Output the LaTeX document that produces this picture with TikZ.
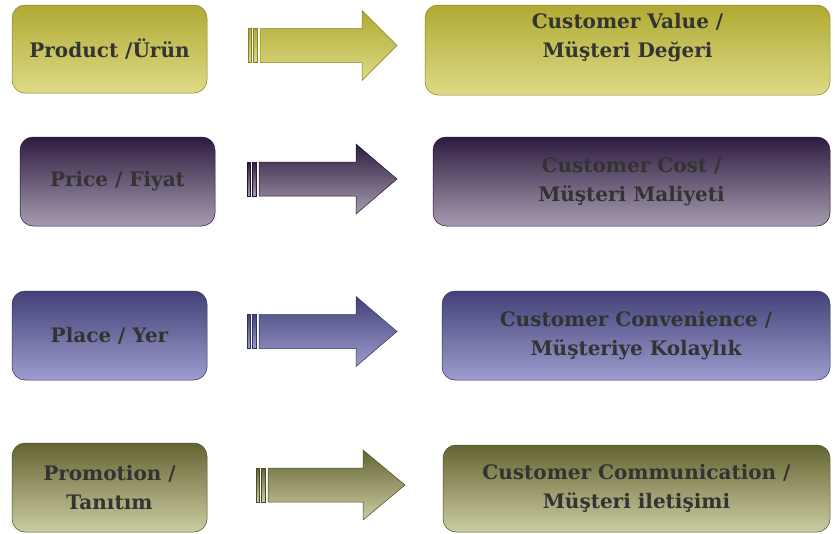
\documentclass[tikz,border=0pt]{standalone}
\usepackage{fontspec}
\setmainfont{DejaVu Serif}
\usetikzlibrary{positioning}
\definecolor{ProductTop}{RGB}{176,170,50}
\definecolor{ProductBot}{RGB}{222,218,135}
\definecolor{PriceTop}{RGB}{46,28,64}
\definecolor{PriceBot}{RGB}{166,156,176}
\definecolor{PlaceTop}{RGB}{66,66,120}
\definecolor{PlaceBot}{RGB}{156,156,206}
\definecolor{PromoTop}{RGB}{100,100,50}
\definecolor{PromoBot}{RGB}{204,204,162}

% block arrow: start x, centre y, head base x, tip x, top colour, bottom colour
\newcommand{\mixarrow}[6]{%
  \shade[top color=#5, bottom color=#6, draw=#5!75!black, line width=0.5pt]
    (#1,#2-17) rectangle (#1+3,#2+17)
    (#1+5,#2-17) rectangle (#1+9,#2+17);
  \shade[top color=#5, bottom color=#6, draw=#5!75!black, line width=0.5pt]
    (#1+12,#2-17) -- (#3,#2-17) -- (#3,#2-35) -- (#4,#2)
    -- (#3,#2+35) -- (#3,#2+17) -- (#1+12,#2+17) -- cycle;
}

\begin{document}
\begin{tikzpicture}[x=1pt, y=-1pt,
    every node/.style={font=\fontsize{20}{29}\selectfont\bfseries, text=black!80, align=center},
    mixbox/.style n args={3}{rounded corners=13pt, top color=#1, bottom color=#2,
        draw=#1!75!black, line width=0.5pt, minimum height=#3},
    leftbox/.style={minimum width=195pt}]
    \useasboundingbox (0,0) rectangle (835,533);

    % --- Product -> Customer Value ---
    \node[mixbox={ProductTop}{ProductBot}{88pt}, leftbox] (product) at (109.5,49) {Product /Ürün};
    \mixarrow{248}{45.5}{362}{397}{ProductTop}{ProductBot}
    \node[mixbox={ProductTop}{ProductBot}{90pt}, minimum width=405pt, text depth=30pt] (value) at (627.5,50)
        {Customer Value /\\Müşteri Değeri};

    % --- Price -> Customer Cost ---
    \node[mixbox={PriceTop}{PriceBot}{89pt}, leftbox] (price) at (117.5,181.5) {Price / Fiyat};
    \mixarrow{247}{179}{356}{397}{PriceTop}{PriceBot}
    \node[mixbox={PriceTop}{PriceBot}{89pt}, minimum width=397pt] (cost) at (631.5,181.5)
        {Customer Cost /\\Müşteri Maliyeti};

    % --- Place -> Customer Convenience ---
    \node[mixbox={PlaceTop}{PlaceBot}{89pt}, leftbox] (place) at (109.5,335.5) {Place / Yer};
    \mixarrow{247}{331.5}{356}{397}{PlaceTop}{PlaceBot}
    \node[mixbox={PlaceTop}{PlaceBot}{89pt}, minimum width=388pt] (convenience) at (636,335.5)
        {Customer Convenience /\\Müşteriye Kolaylık};

    % --- Promotion -> Customer Communication ---
    \node[mixbox={PromoTop}{PromoBot}{89pt}, leftbox] (promotion) at (109.5,487.5) {Promotion /\\Tanıtım};
    \mixarrow{256}{485}{363}{405}{PromoTop}{PromoBot}
    \node[mixbox={PromoTop}{PromoBot}{87pt}, minimum width=387pt] (communication) at (636.5,488.5)
        {Customer Communication /\\Müşteri iletişimi};

\end{tikzpicture}
\end{document}
